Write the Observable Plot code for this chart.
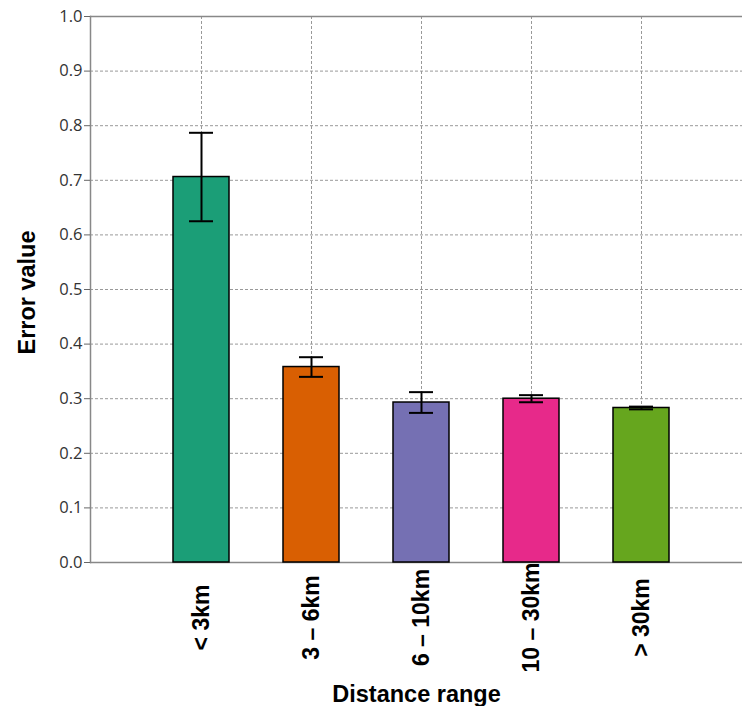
<!DOCTYPE html>
<html>
<head>
<meta charset="utf-8">
<script src="https://cdn.jsdelivr.net/npm/d3@7"></script>
<script src="https://cdn.jsdelivr.net/npm/@observablehq/plot@0.6"></script>
<style>
  html, body { margin: 0; padding: 0; background: white; }
</style>
</head>
<body>
<div id="chart"></div>
<script>
const categories = ["< 3km", "3 – 6km", "6 – 10km", "10 – 30km", "> 30km"];
const means = [0.706, 0.358, 0.293, 0.300, 0.283];
const errors = [0.081, 0.018, 0.019, 0.0065, 0.0025];
const colors = ["#1b9e77", "#d95f02", "#7570b3", "#e7298a", "#66a61e"];
const yTicks = [0, 0.1, 0.2, 0.3, 0.4, 0.5, 0.6, 0.7, 0.8, 0.9, 1.0];
const yLabel = "Error value";
const xLabel = "Distance range";

const data = categories.map((c, i) => ({c, m: means[i], e: errors[i]}));

const boldFont = "'Liberation Sans', Arial, sans-serif";

const chart = Plot.plot({
  width: 742,
  height: 706,
  marginLeft: 90,
  marginTop: 16,
  marginBottom: 144,
  marginRight: 0,
  style: {fontFamily: "'Open Sans', 'Noto Sans', sans-serif", fontSize: "16px", background: "white", color: "#333"},
  x: {domain: categories, range: [90, 753], paddingInner: 0.49, paddingOuter: 0.745, axis: null},
  y: {domain: [0, 1], axis: null},
  color: {domain: categories, range: colors},
  marks: [
    Plot.gridY(yTicks, {stroke: "#999", strokeOpacity: 1, strokeDasharray: "3,2"}),
    Plot.gridX({stroke: "#999", strokeOpacity: 1, strokeDasharray: "3,2"}),
    Plot.ruleY([0, 1], {stroke: "#888", strokeWidth: 1.5}),
    Plot.frame({anchor: "left", stroke: "#888", strokeWidth: 1.5}),
    Plot.axisY(yTicks, {tickSize: 6, tickPadding: 2, tickFormat: d3.format(".1f"), fontSize: 16.5, fill: "#333", stroke: "#666", label: null}),
    Plot.barY(data, {x: "c", y: "m", fill: "c", stroke: "black", strokeWidth: 1.5}),
    Plot.ruleX(data, {x: "c", y1: d => d.m - d.e, y2: d => d.m + d.e, stroke: "black", strokeWidth: 2}),
    Plot.tickY(data, {x: "c", y: d => d.m + d.e, insetLeft: 16, insetRight: 16, stroke: "black", strokeWidth: 2}),
    Plot.tickY(data, {x: "c", y: d => d.m - d.e, insetLeft: 16, insetRight: 16, stroke: "black", strokeWidth: 2}),
    Plot.text(categories, {x: d => d, frameAnchor: "bottom", dy: 55, rotate: -90, textAnchor: "middle", lineAnchor: "middle", fontSize: 23, fontWeight: "bold", fontFamily: boldFont, fill: "black"}),
    Plot.text([yLabel], {frameAnchor: "left", dx: -63, dy: 3, rotate: -90, textAnchor: "middle", lineAnchor: "middle", fontSize: 23.5, fontWeight: "bold", fontFamily: boldFont, fill: "black"}),
    Plot.text([xLabel], {frameAnchor: "bottom", dy: 132, textAnchor: "middle", lineAnchor: "middle", fontSize: 23.5, fontWeight: "bold", fontFamily: boldFont, fill: "black"})
  ]
});
document.getElementById("chart").appendChild(chart);
</script>
</body>
</html>
